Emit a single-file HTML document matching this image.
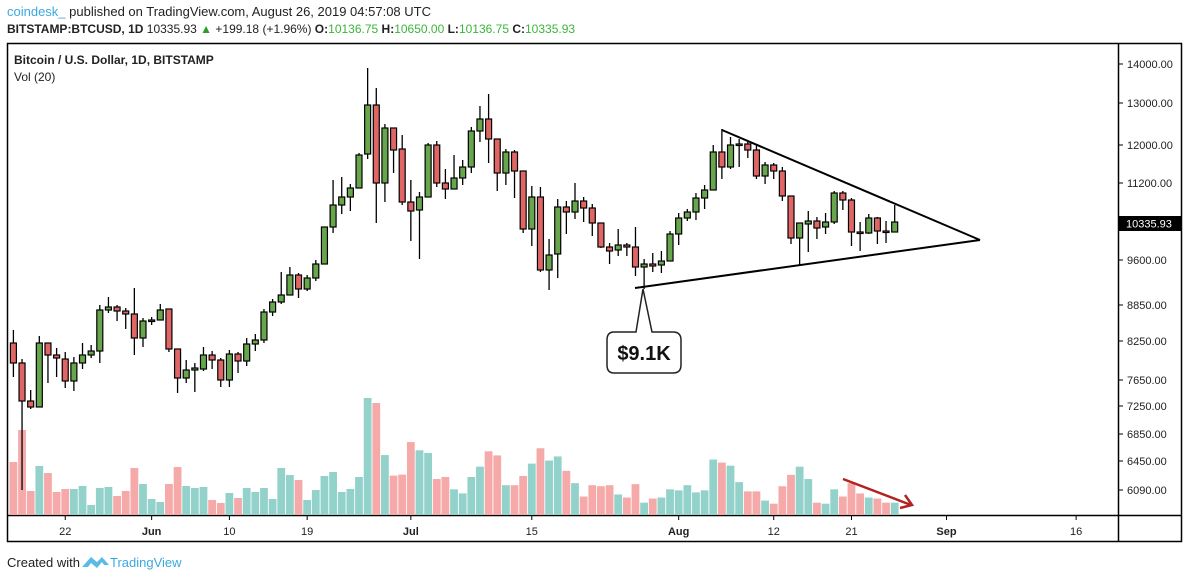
<!DOCTYPE html>
<html><head><meta charset="utf-8"><style>
html,body{margin:0;padding:0;background:#fff;}
body{width:1188px;height:579px;position:relative;overflow:hidden;font-family:"Liberation Sans",sans-serif;}
.t{position:absolute;white-space:nowrap;color:#222;}
</style></head><body>
<div class="t" style="left:7px;top:4px;font-size:13px;"><span style="color:#3ba9de">coindesk_</span> published on TradingView.com, August 26, 2019 04:57:08 UTC</div>
<div class="t" style="left:7px;top:22px;font-size:12px;font-weight:bold;">BITSTAMP:BTCUSD, 1D <span style="font-weight:normal">10335.93 <span style="color:#2aa02a">&#9650;</span> +199.18 (+1.96%)</span> O:<span style="color:#3bb53b;font-weight:normal">10136.75</span> H:<span style="color:#3bb53b;font-weight:normal">10650.00</span> L:<span style="color:#3bb53b;font-weight:normal">10136.75</span> C:<span style="color:#3bb53b;font-weight:normal">10335.93</span></div>
<svg id="s" width="1188" height="579" style="position:absolute;left:0;top:0" xmlns="http://www.w3.org/2000/svg">
<rect x="7.5" y="43.5" width="1174" height="498" fill="none" stroke="#000" stroke-width="1.5"/>
<line x1="1118.5" y1="43" x2="1118.5" y2="542" stroke="#000" stroke-width="1.5"/>
<line x1="7" y1="515.5" x2="1182" y2="515.5" stroke="#000" stroke-width="1.5"/>
<g id="vol"></g><g id="cdl"></g>
<g stroke="#000" stroke-width="2" fill="none">
<line x1="722" y1="130" x2="980" y2="240"/>
<line x1="635" y1="288" x2="980" y2="240"/>
</g>
<path d="M614,332 L636,332 L643,289 L652,332 L673,332 Q681,332 681,340 L681,365 Q681,373 673,373 L614,373 Q607,373 607,365 L607,340 Q607,332 614,332 Z" fill="#fff" stroke="#222" stroke-width="1.5"/>
<text x="644" y="360" font-family="Liberation Sans,sans-serif" font-size="20" font-weight="bold" text-anchor="middle" fill="#111">$9.1K</text>
<g stroke="#b22222" stroke-width="2.5" fill="none">
<line x1="843" y1="479" x2="911" y2="505"/>
<polyline points="905,495 912,505 900,508"/>
</g>
<g id="ax" font-family="Liberation Sans,sans-serif" font-size="11" fill="#222"></g>
<rect x="1119" y="216" width="62" height="15" fill="#000"/>
<text x="1126" y="227.5" font-family="Liberation Sans,sans-serif" font-size="11" fill="#fff">10335.93</text>
<text x="14" y="64" font-family="Liberation Sans,sans-serif" font-size="12" font-weight="bold" fill="#222">Bitcoin / U.S. Dollar, 1D, BITSTAMP</text>
<text x="14" y="81" font-family="Liberation Sans,sans-serif" font-size="12" fill="#222">Vol (20)</text>
<path d="M82,567 L91,557 L97,562 L102,557 L109,565 L104,565 L102,562 L97,568 L91,563 L88,567 Z" fill="#5bbbe6"/>
<text x="7" y="567" font-family="Liberation Sans,sans-serif" font-size="13" fill="#222">Created with</text>
<text x="110" y="567" font-family="Liberation Sans,sans-serif" font-size="13" fill="#3ba9de">TradingView</text>
</svg>
<script>
var C=[[343,363,330,377],[363,401,359,490],[401,407,390,409],[407,343,336,407],[343,355,343,383],[355,358,348,377],[359,381,352,388],[381,363,357,391],[363,355,343,369],[355,351,345,358],[351,310,305,363],[310,307,297,313],[307,311,305,321],[311,314,308,329],[314,338,288,355],[338,321,318,347],[321,320,317,325],[320,310,304,320],[309,349,309,352],[349,378,349,393],[378,370,360,383],[370,368,363,392],[369,355,347,371],[355,360,351,369],[360,380,358,387],[380,354,350,387],[354,361,352,373],[361,344,338,366],[344,340,334,351],[340,312,309,343],[312,302,299,316],[302,295,272,304],[295,275,267,295],[275,289,273,298],[289,278,275,291],[278,264,260,281],[264,227,227,264],[227,205,180,233],[205,197,177,214],[197,188,184,211],[188,155,153,188],[154,105,68,159],[105,183,88,223],[183,128,124,202],[128,150,128,173],[149,202,135,205],[202,211,180,241],[210,197,192,259],[197,145,143,197],[145,183,141,187],[183,189,169,199],[189,178,155,189],[178,167,160,185],[167,131,127,173],[131,119,106,142],[119,139,94,163],[139,173,139,191],[173,152,149,185],[152,171,150,198],[171,229,171,233],[229,197,186,246],[197,270,187,272],[270,255,239,290],[254,207,199,278],[207,212,201,234],[212,201,183,219],[201,208,197,222],[208,223,204,236],[223,247,223,248],[247,251,243,264],[250,245,229,256],[245,247,243,256],[247,267,227,276],[267,264,259,289],[264,266,253,272],[265,261,251,273],[261,234,231,261],[234,218,213,245],[218,212,209,221],[212,198,193,220],[198,190,185,209],[190,152,145,190],[152,167,129,179],[167,145,137,169],[145,144,139,167],[144,150,142,158],[150,176,145,179],[176,165,162,184],[165,171,163,179],[171,196,167,201],[196,238,196,244],[238,223,223,265],[224,221,211,252],[221,228,217,239],[227,222,213,234],[222,193,191,224],[193,200,191,210],[200,232,198,246],[232,233,222,251],[233,218,214,234],[218,231,217,244],[231,232,221,243],[232,222,205,232]];
var V=[462,430,491,466,473,492,489,489,486,505,488,487,496,491,468,484,499,502,484,467,486,488,487,500,503,493,498,488,492,488,499,468,475,480,500,490,476,472,492,489,477,398,403];
var Z=[110,170,167,72,96,104,180,174,210,222,174,144,99,111,198,198,171,135,90,126,114,156,192,231,198,201,198,225,234,195,249,237,234,210,213,198,219,213,123,132,141,189,216,216,243,252,201,168,144,180,249,252,210,231,192,222,234,237,249,249];
Z.forEach(function(z){V.push(515-(285-z)/2.92);});
var NS="http://www.w3.org/2000/svg";
function el(p,t,a){var e=document.createElementNS(NS,t);for(var k in a)e.setAttribute(k,a[k]);p.appendChild(e);return e;}
var vg=document.getElementById('vol'),cg=document.getElementById('cdl');
for(var i=0;i<C.length;i++){
 var x=13.4+8.64*i,c=C[i],up=c[1]<c[0]||(c[1]==c[0]);
 if(i==98||i==101)up=false;
 el(vg,'rect',{x:x-3.9,y:V[i],width:7.8,height:515-V[i],fill:up?'#93d2cb':'#f5aaa9'});
 el(cg,'line',{x1:x,y1:c[2],x2:x,y2:c[3],stroke:'#000','stroke-width':1.3});
 var t=Math.min(c[0],c[1]),h=Math.max(Math.abs(c[1]-c[0]),1.5);
 el(cg,'rect',{x:x-3,y:t,width:6,height:h,fill:up?'#67a64d':'#e06666',stroke:'#000','stroke-width':1.2});
}
var ax=document.getElementById('ax');
[[14000,64],[13000,103],[12000,145],[11200,183],[9600,260],[8850,305],[8250,341],[7650,380],[7250,406],[6850,434],[6450,461],[6090,490]].forEach(function(p){
 el(ax,'line',{x1:1119,y1:p[1],x2:1123,y2:p[1],stroke:'#000'});
 var t=el(ax,'text',{x:1127,y:p[1]+4});t.textContent=p[0].toFixed(2);
});
el(ax,'line',{x1:1119,y1:223.5,x2:1123,y2:223.5,stroke:'#000'});
[['22',6],['Jun',16],['10',25],['19',34],['Jul',46],['15',60],['Aug',77],['12',88],['21',97],['Sep',108],['16',123]].forEach(function(d){
 var x=13.4+8.64*d[1];
 el(ax,'line',{x1:x,y1:516,x2:x,y2:520,stroke:'#000'});
 var t=el(ax,'text',{x:x,y:535,'text-anchor':'middle','font-weight':(isNaN(+d[0])?'bold':'normal')});t.textContent=d[0];
});
</script>
</body></html>
